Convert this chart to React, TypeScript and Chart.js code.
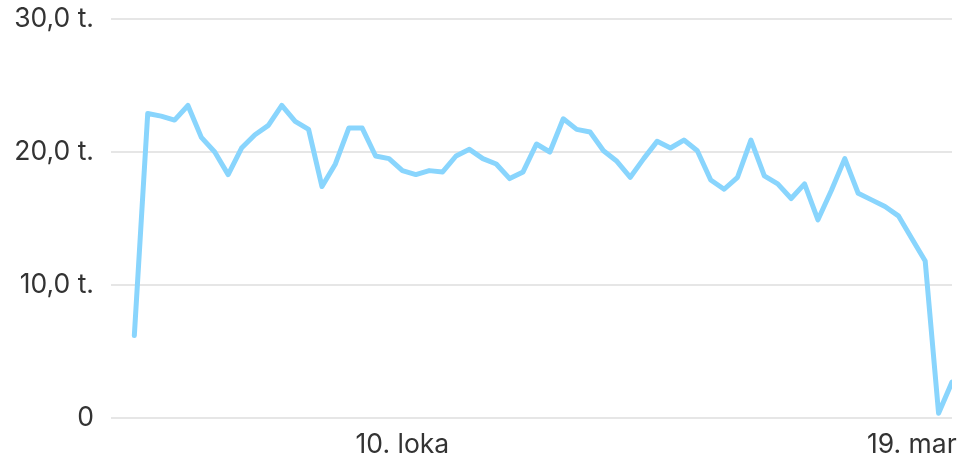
import React, { useEffect, useRef } from "react";
import { Chart, registerables } from "chart.js";

Chart.register(...registerables);

const values: number[] = [
  6.2, 22.9, 22.7, 22.4, 23.5, 21.1, 20.0, 18.3, 20.3, 21.3,
  22.0, 23.5, 22.3, 21.7, 17.4, 19.1, 21.8, 21.8, 19.7, 19.5,
  18.6, 18.3, 18.6, 18.5, 19.7, 20.2, 19.5, 19.1, 18.0, 18.5,
  20.6, 20.0, 22.5, 21.7, 21.5, 20.1, 19.3, 18.1, 19.5, 20.8,
  20.3, 20.9, 20.1, 17.9, 17.2, 18.1, 20.9, 18.2, 17.6, 16.5,
  17.6, 14.9, 17.1, 19.5, 16.9, 16.4, 15.9, 15.2, 13.5, 11.8,
  0.35, 2.7,
];

const xTickIndexes: number[] = [20, 58];
const xTickLabels: string[] = ["10. loka", "19. mar"];
const yTickValues: number[] = [0, 10, 20, 30];
const yTickLabels: string[] = ["0", "10,0 t.", "20,0 t.", "30,0 t."];

export default function App() {
  const ref = useRef<HTMLCanvasElement | null>(null);

  useEffect(() => {
    document.body.style.margin = "0";
    if (!ref.current) return;
    const font = { family: "Inter, 'Liberation Sans', Arial, sans-serif", size: 26.5 };
    const chart = new Chart(ref.current, {
      type: "line",
      data: {
        datasets: [
          {
            data: values.map((v, i) => ({ x: i, y: v })),
            borderColor: "rgb(137, 213, 253)",
            borderWidth: 5,
            pointRadius: 0,
            tension: 0,
            borderJoinStyle: "round",
            borderCapStyle: "round",
            fill: false,
          },
        ],
      },
      options: {
        animation: false,
        responsive: false,
        maintainAspectRatio: false,
        layout: { padding: { top: 19, right: 17, left: 0, bottom: 0 } },
        plugins: { legend: { display: false }, tooltip: { enabled: false } },
        scales: {
          x: {
            type: "linear",
            min: -1.74,
            max: 61,
            grid: { display: false },
            border: { display: false },
            afterBuildTicks: (axis: any) => {
              axis.ticks = xTickIndexes.map((v) => ({ value: v }));
            },
            afterFit: (axis: any) => {
              axis.height = 43;
              axis.paddingLeft = 0;
              axis.paddingRight = 0;
            },
            ticks: {
              autoSkip: false,
              maxRotation: 0,
              padding: 3,
              color: "#333",
              font,
              callback: (value: any) => {
                const i = xTickIndexes.indexOf(Number(value));
                return i >= 0 ? xTickLabels[i] : "";
              },
            },
          },
          y: {
            min: 0,
            max: 30,
            grid: { color: "#e6e6e6", lineWidth: 2, drawTicks: false },
            border: { display: false },
            afterBuildTicks: (axis: any) => {
              axis.ticks = yTickValues.map((v) => ({ value: v }));
            },
            afterFit: (axis: any) => {
              axis.width = 111;
              axis.paddingTop = 0;
              axis.paddingBottom = 0;
            },
            ticks: {
              padding: 17,
              color: "#333",
              font,
              callback: (value: any) => {
                const i = yTickValues.indexOf(Number(value));
                return i >= 0 ? yTickLabels[i] : "";
              },
            },
          },
        },
      },
    });
    return () => chart.destroy();
  }, []);

  return (
    <div style={{ width: 969, height: 461, position: "relative" }}>
      <canvas ref={ref} width={969} height={461} style={{ display: "block", width: 969, height: 461 }} />
    </div>
  );
}
